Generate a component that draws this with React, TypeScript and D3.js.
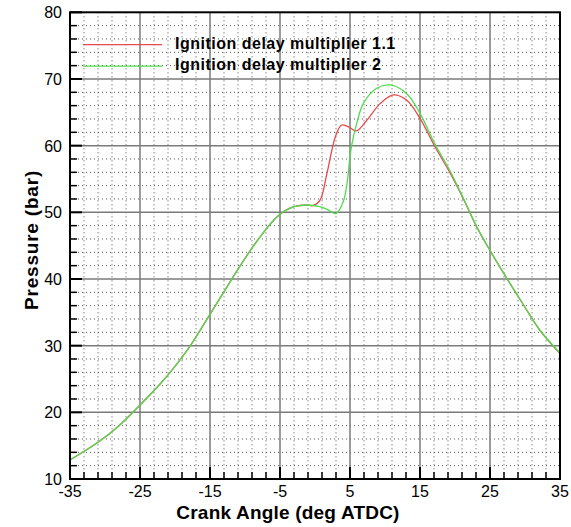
import React from "react";
import * as d3 from "d3";

const sharedAngle = [-35, -31, -28, -25, -22, -20, -18, -15, -12, -10, -8, -6, -5, -4, -3, -1.2];
const sharedPressure = [12.85, 15.5, 18.0, 21.1, 24.4, 26.9, 29.7, 34.7, 39.8, 43.1, 46.1, 48.7, 49.7, 50.4, 50.85, 51.1];

const redAngle = [-0.3, 0.7, 1.7, 2.9, 3.8, 4.8, 5.9, 7.4, 9.3, 11.2, 13.1, 15, 17.1, 19.3, 21.2, 23.1, 25.1, 27.4, 29.8, 32.1, 35];
const redPressure = [51.0, 51.8, 55.8, 61.3, 63.1, 62.8, 62.2, 63.8, 66.3, 67.6, 66.8, 64.1, 59.9, 55.9, 52.0, 47.8, 44.1, 40.1, 36.1, 32.35, 28.8];

const greenAngle = [0.7, 2, 3, 4, 4.5, 5.2, 6, 6.9, 8.8, 10.7, 13.1, 15, 17.1, 19.3, 21.2, 23.1, 25.1, 27.4, 29.8, 32.1, 35];
const greenPressure = [50.85, 50.3, 49.8, 51.5, 53.8, 59.8, 63.5, 66.3, 68.6, 69.1, 67.8, 64.85, 60.3, 56.2, 52.1, 47.85, 44.1, 40.1, 36.1, 32.35, 28.9];

const seriesNames = ["Ignition delay multiplier 1.1", "Ignition delay multiplier 2"];
const seriesColors = ["#e8494b", "#4fdc4f"];

const xTicks = [-35, -25, -15, -5, 5, 15, 25, 35];
const yTicks = [10, 20, 30, 40, 50, 60, 70, 80];

const xTitle = "Crank Angle (deg ATDC)";
const yTitle = "Pressure (bar)";

export default function App() {
  const W = 571, H = 527;
  const left = 70, right = 560, top = 12.3, bottom = 479;
  const x = d3.scaleLinear().domain([-35, 35]).range([left, right]);
  const y = d3.scaleLinear().domain([10, 80]).range([bottom, top]);

  const font = "'Liberation Sans', Arial, sans-serif";

  const minorX = d3.range(-35, 35.001, 2).filter((v) => !xTicks.includes(v));
  const minorY = d3.range(10, 80.001, 2).filter((v) => !yTicks.includes(v));

  const line = d3
    .line<[number, number]>()
    .x((d) => x(d[0]))
    .y((d) => y(d[1]))
    .curve(d3.curveCatmullRom.alpha(0.5));

  const shared: [number, number][] = sharedAngle.map((a, i) => [a, sharedPressure[i]]);
  const red: [number, number][] = shared.concat(redAngle.map((a, i) => [a, redPressure[i]] as [number, number]));
  const green: [number, number][] = shared.concat(greenAngle.map((a, i) => [a, greenPressure[i]] as [number, number]));

  return (
    <svg width={W} height={H} style={{ position: "absolute", left: 0, top: 0, background: "#fff" }}>
      <rect x={0} y={0} width={W} height={H} fill="#fff" />
      {minorX.map((v) => (
        <line key={"mx" + v} x1={x(v)} x2={x(v)} y1={top} y2={bottom} stroke="#555" strokeWidth={1} strokeDasharray="1,3" />
      ))}
      {minorY.map((v) => (
        <line key={"my" + v} x1={left} x2={right} y1={y(v)} y2={y(v)} stroke="#555" strokeWidth={1} strokeDasharray="1,3" />
      ))}
      {xTicks.slice(1, -1).map((v) => (
        <line key={"gx" + v} x1={x(v)} x2={x(v)} y1={top} y2={bottom} stroke="#7a7a7a" strokeWidth={1.5} />
      ))}
      {yTicks.slice(1, -1).map((v) => (
        <line key={"gy" + v} x1={left} x2={right} y1={y(v)} y2={y(v)} stroke="#7a7a7a" strokeWidth={1.5} />
      ))}
      {minorX.map((v) => (
        <line key={"tmx" + v} x1={x(v)} x2={x(v)} y1={bottom} y2={bottom - 7} stroke="#000" strokeWidth={1.5} />
      ))}
      {minorY.map((v) => (
        <line key={"tmy" + v} x1={left} x2={left + 7} y1={y(v)} y2={y(v)} stroke="#000" strokeWidth={1.5} />
      ))}
      {xTicks.map((v) => (
        <line key={"tx" + v} x1={x(v)} x2={x(v)} y1={bottom} y2={bottom - 12} stroke="#000" strokeWidth={2} />
      ))}
      {yTicks.map((v) => (
        <line key={"ty" + v} x1={left} x2={left + 12} y1={y(v)} y2={y(v)} stroke="#000" strokeWidth={2} />
      ))}
      <path d={line(red) || ""} fill="none" stroke={seriesColors[0]} strokeWidth={1.3} />
      <path d={line(green) || ""} fill="none" stroke={seriesColors[1]} strokeWidth={1.3} />
      <rect x={left} y={top} width={right - left} height={bottom - top} fill="none" stroke="#000" strokeWidth={2} />
      {xTicks.map((v) => (
        <text key={"lx" + v} x={x(v)} y={bottom + 18} fontFamily={font} fontSize={16} textAnchor="middle">
          {v}
        </text>
      ))}
      {yTicks.map((v) => (
        <text key={"ly" + v} x={left - 8} y={y(v) + 6} fontFamily={font} fontSize={16} textAnchor="end">
          {v}
        </text>
      ))}
      <text x={288} y={519} fontFamily={font} fontSize={19} fontWeight="bold" textAnchor="middle" letterSpacing={0.2}>
        {xTitle}
      </text>
      <text transform={`translate(38,240) rotate(-90)`} fontFamily={font} fontSize={19} fontWeight="bold" textAnchor="middle" letterSpacing={0.8}>
        {yTitle}
      </text>
      {seriesNames.map((n, i) => (
        <g key={n}>
          <line x1={83} x2={162} y1={44.7 + i * 21.5} y2={44.7 + i * 21.5} stroke={seriesColors[i]} strokeWidth={1.3} />
          <text x={175} y={48.5 + i * 21.5} fontFamily={font} fontSize={16} fontWeight="bold" letterSpacing={0.5}>
            {n}
          </text>
        </g>
      ))}
    </svg>
  );
}
